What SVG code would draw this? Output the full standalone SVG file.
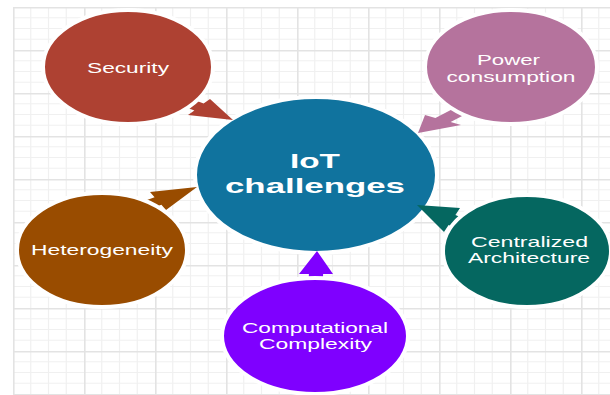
<svg xmlns="http://www.w3.org/2000/svg" width="610" height="395" viewBox="0 0 610 395">
  <defs>
    <pattern id="grid" x="13" y="7" width="71" height="43" patternUnits="userSpaceOnUse">
      <g stroke="#f0f0f0" stroke-width="1.2" fill="none">
        <line x1="17.75" y1="0" x2="17.75" y2="43"/>
        <line x1="35.5" y1="0" x2="35.5" y2="43"/>
        <line x1="53.25" y1="0" x2="53.25" y2="43"/>
        <line x1="0" y1="10.75" x2="71" y2="10.75"/>
        <line x1="0" y1="21.5" x2="71" y2="21.5"/>
        <line x1="0" y1="32.25" x2="71" y2="32.25"/>
      </g>
      <g stroke="#e3e3e3" stroke-width="1.6" fill="none">
        <line x1="0.8" y1="0" x2="0.8" y2="43"/>
        <line x1="0" y1="0.8" x2="71" y2="0.8"/>
      </g>
    </pattern>
    <style>
      .node { stroke: #ffffff; stroke-width: 4; }
      .lbl { font-family: "Liberation Sans", Arial, Helvetica, sans-serif; font-size: 15px; fill: #ffffff; text-anchor: middle; }
      .big { font-family: "Liberation Sans", Arial, Helvetica, sans-serif; font-size: 21px; font-weight: bold; fill: #ffffff; text-anchor: middle; }
    </style>
  </defs>

  <rect x="0" y="0" width="610" height="395" fill="#ffffff"/>
  <rect x="13" y="7" width="597" height="388" fill="url(#grid)"/>

  <g id="center">
    <ellipse class="node" cx="316" cy="175" rx="121" ry="78" fill="#10739E"/>
    <text class="big" x="315" y="168" textLength="50" lengthAdjust="spacingAndGlyphs">IoT</text>
    <text class="big" x="315" y="193" textLength="180" lengthAdjust="spacingAndGlyphs">challenges</text>
  </g>

  <g id="connectors">
    <polygon fill="#AE4132" points="233,120 210,99 203.6,103.6 152.6,84.1 143.4,90.9 194.4,110.4 188,115"/>
    <polygon fill="#B5739D" points="418,133 425,115 435.4,117.9 472.9,98.4 488.1,102.6 450.6,122.1 461,125"/>
    <polygon fill="#994C00" points="197,187 150,192 154.6,197.2 96.1,218.2 102.9,225.8 161.4,204.8 166,210"/>
    <polygon fill="#056760" points="417,205 460,208 455.4,215 507.9,237.5 501.1,247.5 448.6,225 444,232"/>
    <polygon fill="#7F00FF" points="317,251 333,274 323.1,274 321.6,308.5 307.4,308.5 308.9,274 299,274"/>
  </g>

  <g id="security">
    <ellipse class="node" cx="128" cy="67" rx="85" ry="57" fill="#AE4132"/>
    <text class="lbl" x="128" y="73" textLength="82" lengthAdjust="spacingAndGlyphs">Security</text>
  </g>

  <g id="power">
    <ellipse class="node" cx="511" cy="67" rx="86" ry="57" fill="#B5739D"/>
    <text class="lbl" x="508.5" y="65" textLength="63" lengthAdjust="spacingAndGlyphs">Power</text>
    <text class="lbl" x="511" y="82" textLength="129" lengthAdjust="spacingAndGlyphs">consumption</text>
  </g>

  <g id="heterogeneity">
    <ellipse class="node" cx="102" cy="250" rx="85" ry="57" fill="#994C00"/>
    <text class="lbl" x="102" y="255" textLength="142" lengthAdjust="spacingAndGlyphs">Heterogeneity</text>
  </g>

  <g id="centralized">
    <ellipse class="node" cx="527" cy="251" rx="84" ry="56" fill="#056760"/>
    <text class="lbl" x="529.5" y="247" textLength="117" lengthAdjust="spacingAndGlyphs">Centralized</text>
    <text class="lbl" x="529" y="263" textLength="122" lengthAdjust="spacingAndGlyphs">Architecture</text>
  </g>

  <g id="computational">
    <ellipse class="node" cx="315" cy="336" rx="93" ry="58" fill="#7F00FF"/>
    <text class="lbl" x="315" y="333" textLength="146" lengthAdjust="spacingAndGlyphs">Computational</text>
    <text class="lbl" x="315.5" y="349" textLength="113" lengthAdjust="spacingAndGlyphs">Complexity</text>
  </g>
</svg>
